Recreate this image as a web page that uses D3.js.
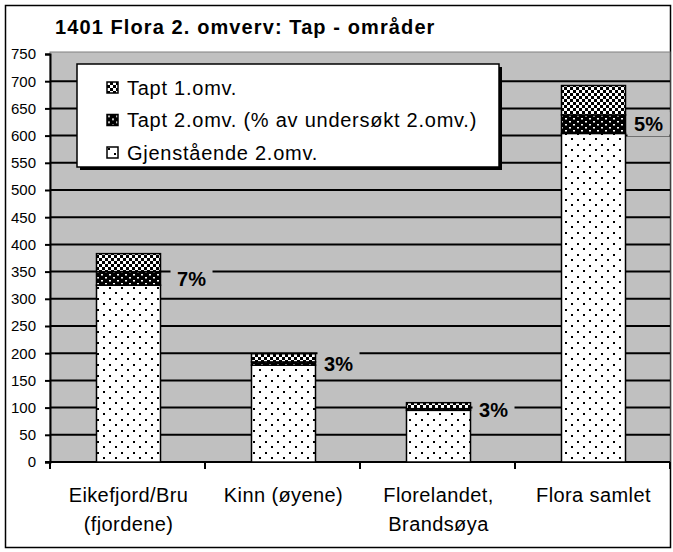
<!DOCTYPE html>
<html>
<head>
<meta charset="utf-8">
<script src="https://cdn.jsdelivr.net/npm/d3@7"></script>
<style>
    body { margin: 0; background: #fff; }
    svg { font-family: Arial, "Liberation Sans", sans-serif; }
</style>
</head>
<body>
<svg width="673" height="552"></svg>
<script>
// chart values
const categories = [["Eikefjord/Bru", "(fjordene)"], ["Kinn (øyene)"], ["Florelandet,", "Brandsøya"], ["Flora samlet"]];
const gjenstaende = [325, 178, 95, 604];
const tapt2 = [25, 6, 3, 34];
const tapt1 = [33, 15, 11, 54];
const pctLabels = ["7%", "3%", "3%", "5%"];
const yTicks = [0, 50, 100, 150, 200, 250, 300, 350, 400, 450, 500, 550, 600, 650, 700, 750];
const seriesNames = ["Gjenstående 2.omv.", "Tapt 2.omv. (% av undersøkt 2.omv.)", "Tapt 1.omv."];

const svg = d3.select("svg");
const gray = "#c0c0c0";

const plotLeft = 50, plotRight = 670, plotTop = 54, plotBottom = 462;

// fill patterns
const defs = svg.append("defs");
const pDots = defs.append("pattern").attr("id", "p-gjen")
    .attr("width", 12).attr("height", 11).attr("patternUnits", "userSpaceOnUse");
pDots.append("rect").attr("width", 12).attr("height", 11).attr("fill", "#fff");
pDots.append("rect").attr("x", 1).attr("y", 1).attr("width", 2).attr("height", 2).attr("fill", "#000");
pDots.append("rect").attr("x", 7).attr("y", 6).attr("width", 2).attr("height", 2).attr("fill", "#000");

const pBlack = defs.append("pattern").attr("id", "p-tapt2")
    .attr("width", 8).attr("height", 6).attr("patternUnits", "userSpaceOnUse");
pBlack.append("rect").attr("width", 8).attr("height", 6).attr("fill", "#000");
pBlack.append("rect").attr("x", 1).attr("y", 1).attr("width", 2).attr("height", 1.5).attr("fill", "#fff");
pBlack.append("rect").attr("x", 5).attr("y", 4).attr("width", 2).attr("height", 1.5).attr("fill", "#fff");

const pCheck = defs.append("pattern").attr("id", "p-tapt1")
    .attr("width", 6).attr("height", 6).attr("patternUnits", "userSpaceOnUse");
pCheck.append("rect").attr("width", 6).attr("height", 6).attr("fill", "#000");
pCheck.append("rect").attr("x", 0).attr("y", 0).attr("width", 3).attr("height", 3).attr("fill", "#fff");
pCheck.append("rect").attr("x", 3).attr("y", 3).attr("width", 3).attr("height", 3).attr("fill", "#fff");

const fills = {gjen: "url(#p-gjen)", tapt2: "url(#p-tapt2)", tapt1: "url(#p-tapt1)"};

// outer frame
svg.append("rect")
    .attr("x", 5.5).attr("y", 5.5).attr("width", 665).attr("height", 542)
    .attr("fill", "#fff").attr("stroke", "#000").attr("stroke-width", 1.5);

svg.append("text")
    .attr("x", 55).attr("y", 34)
    .attr("font-size", 20).attr("font-weight", "bold").attr("letter-spacing", 1.1)
    .text("1401 Flora 2. omverv: Tap - områder");

var x = d3.scaleBand()
    .domain(d3.range(categories.length))
    .range([plotLeft, plotRight])
    .paddingInner(0.587)
    .paddingOuter(0.2935);

var y = d3.scaleLinear()
    .domain([0, 750])
    .range([plotBottom, plotTop]);

// plot area
svg.append("rect")
    .attr("x", plotLeft).attr("y", plotTop - 2)
    .attr("width", plotRight - plotLeft).attr("height", plotBottom - plotTop + 2)
    .attr("fill", gray).attr("stroke", "#808080").attr("stroke-width", 1);

svg.append("g")
    .selectAll("line")
    .data(yTicks.filter(d => d > 0 && d < 750)).enter()
    .append("line")
    .attr("x1", plotLeft).attr("x2", plotRight)
    .attr("y1", d => y(d)).attr("y2", d => y(d))
    .attr("stroke", "#000").attr("stroke-width", 2);

var yAxis = d3.axisLeft(y).tickValues(yTicks).tickSize(5).tickPadding(9);
var yg = svg.append("g")
    .attr("transform", "translate(" + plotLeft + ",0)")
    .call(yAxis);
yg.select(".domain").attr("stroke-width", 2);
yg.selectAll(".tick line").attr("stroke-width", 2);
yg.selectAll("text").attr("font-size", 15).attr("fill", "#000");
yg.attr("font-family", null);

// category ticks at band boundaries
var bounds = d3.range(categories.length + 1).map(i => plotLeft + i * (plotRight - plotLeft) / categories.length);
svg.append("g").selectAll("line")
    .data(bounds).enter()
    .append("line")
    .attr("x1", d => d).attr("x2", d => d)
    .attr("y1", plotBottom).attr("y2", plotBottom + 7)
    .attr("stroke", "#000").attr("stroke-width", 2);
svg.append("line")
    .attr("x1", plotLeft - 5).attr("x2", plotRight)
    .attr("y1", plotBottom).attr("y2", plotBottom)
    .attr("stroke", "#000").attr("stroke-width", 2);

// stacked bars
var rows = categories.map((c, i) => ({gjen: gjenstaende[i], tapt2: tapt2[i], tapt1: tapt1[i]}));
var stack = d3.stack().keys(["gjen", "tapt2", "tapt1"])(rows);

svg.append("g")
    .selectAll("g")
    .data(stack).enter()
    .append("g")
    .attr("fill", d => fills[d.key])
    .selectAll("rect")
    .data(d => d).enter()
    .append("rect")
    .attr("x", (d, i) => x(i) + 1)
    .attr("width", x.bandwidth())
    .attr("y", d => y(d[1]))
    .attr("height", d => y(d[0]) - y(d[1]))
    .attr("stroke", "#000").attr("stroke-width", 1.5);

// percentage labels beside the "Tapt 2" segment
var lab = svg.append("g")
    .selectAll("g")
    .data(stack[1]).enter()
    .append("g")
    .attr("transform", (d, i) => "translate(" + (x(i) + x.bandwidth() + (i === 0 ? 32 : 24)) + "," + (y((d[0] + d[1]) / 2)) + ")");
lab.append("rect")
    .attr("x", -21).attr("y", -12).attr("width", 42).attr("height", 24)
    .attr("fill", gray);
lab.append("text")
    .attr("text-anchor", "middle").attr("dy", "0.36em")
    .attr("font-size", 20).attr("font-weight", "bold")
    .text((d, i) => pctLabels[i]);

// category labels
svg.append("g")
    .selectAll("text")
    .data(categories).enter()
    .append("text")
    .attr("text-anchor", "middle")
    .attr("font-size", 20).attr("letter-spacing", 0.4)
    .attr("x", (d, i) => x(i) + x.bandwidth() / 2 + 1)
    .selectAll("tspan")
    .data(d => d).enter()
    .append("tspan")
    .attr("x", function () { return d3.select(this.parentNode).attr("x"); })
    .attr("y", (d, j) => 502 + j * 29)
    .text(d => d);

// legend
var legend = svg.append("g").attr("transform", "translate(77,64)");
legend.append("rect")
    .attr("x", 3).attr("y", 3).attr("width", 422).attr("height", 103).attr("fill", "#000");
legend.append("rect")
    .attr("width", 422).attr("height", 103)
    .attr("fill", "#fff").attr("stroke", "#000").attr("stroke-width", 1.5);

var legendItems = [
    {name: seriesNames[2], fill: fills.tapt1},
    {name: seriesNames[1], fill: fills.tapt2},
    {name: seriesNames[0], fill: fills.gjen}
];
var li = legend.selectAll(".item")
    .data(legendItems).enter()
    .append("g")
    .attr("class", "item")
    .attr("transform", (d, i) => "translate(30," + (18 + i * 32.5) + ")");
li.append("rect")
    .attr("width", 11).attr("height", 11)
    .attr("fill", d => d.fill).attr("stroke", "#000").attr("stroke-width", 1.5);
li.append("text")
    .attr("x", 20).attr("y", 5.5).attr("dy", "0.36em")
    .attr("font-size", 20).attr("letter-spacing", 0.75)
    .text(d => d.name);
</script>
</body>
</html>
